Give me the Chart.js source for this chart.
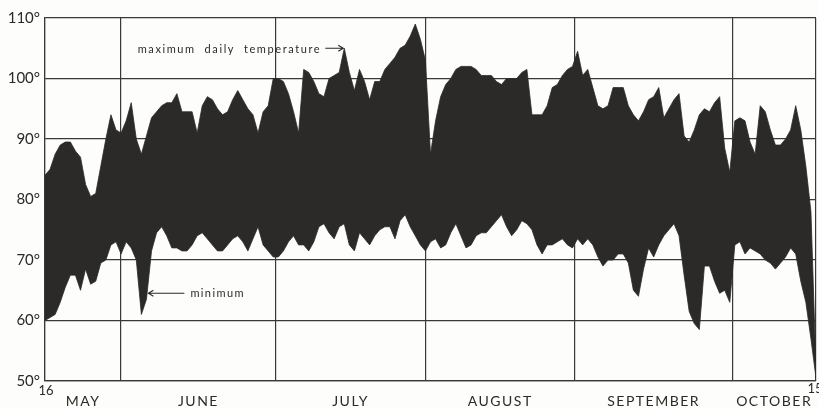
<!DOCTYPE html>
<html>
<head>
<meta charset="utf-8">
<script src="https://cdn.jsdelivr.net/npm/chart.js@4/dist/chart.umd.min.js"></script>
<style>
    html, body { margin: 0; padding: 0; background: #fdfdfb; }
    #wrap { width: 819px; height: 408px; }
</style>
</head>
<body>
<div id="wrap"><canvas id="temps" width="819" height="408"></canvas></div>
<script>
// daily max / min temperature, 16 May .. 15 October (one value per day)
const maxTemps = [
    84, 85, 87.5, 89, 89.5, 89.5, 88, 87, 82.5, 80.5,
    81, 85.5, 90, 94, 91.5, 91, 93, 96, 90, 87.5,
    90.5, 93.5, 94.5, 95.5, 96, 96, 97.5, 94.5, 94.5, 94.5,
    91, 95.5, 97, 96.5, 95, 94, 94.5, 96.5, 98, 96.5,
    95, 94, 91, 94.5, 95.5, 100, 100, 99.5, 97.5, 94.5,
    91, 101.5, 101, 99.5, 97.5, 97, 100, 100.5, 101, 105,
    101, 98, 101.5, 99.5, 96.5, 99.5, 99.5, 101.5, 102.5, 103.5,
    105, 105.5, 107, 109, 106.5, 103, 87.5, 93, 97, 99,
    100, 101.5, 102, 102, 102, 101.5, 100.5, 100.5, 100.5, 99.5,
    99, 100, 100, 100, 101, 101.5, 94, 94, 94, 95.5,
    98.5, 99, 100.5, 101.5, 102, 104.5, 100.5, 101.5, 98.5, 95.5,
    95, 95.5, 98.5, 98.5, 98.5, 95.5, 94, 93, 94.5, 96.5,
    97, 98.5, 93.5, 95, 96.5, 97.5, 90.5, 89.5, 91.5, 94,
    95, 94.5, 96, 97, 88.5, 84.5, 93, 93.5, 93, 89.5,
    87.5, 95.5, 94.5, 91.5, 89, 89, 90, 91.5, 95.5, 91.5,
    85.5, 78, 52
];
const minTemps = [
    60, 60.5, 61, 63, 65.5, 67.5, 67.5, 65, 68.5, 66,
    66.5, 69.5, 70, 72.5, 73, 71, 73, 72, 70, 61,
    63.5, 71.5, 74.5, 75.5, 74, 72, 72, 71.5, 71.5, 72.5,
    74, 74.5, 73.5, 72.5, 71.5, 71.5, 72.5, 73.5, 74, 73,
    71.5, 73.5, 75.5, 72.5, 71.5, 70.5, 70.5, 71.5, 73, 74,
    72.5, 72.5, 71.5, 73, 75.5, 76, 74.5, 73.5, 75.5, 76,
    72.5, 71.5, 74.5, 73.5, 72.5, 74, 75, 75.5, 75.5, 73.5,
    76.5, 77.5, 75.5, 74, 72.5, 71.5, 73, 73.5, 72, 72.5,
    74.5, 76, 74, 72, 72.5, 74, 74.5, 74.5, 75.5, 76.5,
    77.5, 75.5, 74, 75, 76.5, 76, 75, 72.5, 71, 72.5,
    72.5, 73, 73.5, 72.5, 72, 73.5, 72.5, 73.5, 72.5, 70.5,
    69, 70, 70, 71, 71, 69.5, 65, 64, 68.5, 72,
    70.5, 72.5, 74, 75, 76, 74, 67.5, 61.5, 59.5, 58.5,
    69, 69, 66.5, 64.5, 65, 63, 72.5, 73, 71, 72,
    71.5, 71, 70, 69.5, 68.5, 69.5, 70.5, 72, 71, 66.5,
    63, 57, 50.5
];
const dayIndex = maxTemps.map((_, i) => i);

const monthNames = ["MAY", "JUNE", "JULY", "AUGUST", "SEPTEMBER", "OCTOBER"];
// month boundary lines, in day units as drawn on the original sheet
const monthStarts = [15, 45.5, 75, 104.5, 135.5];
const yTicks = [50, 60, 70, 80, 90, 100, 110];

const ink = "#2b2a28";
const firstDay = 0, lastDay = maxTemps.length - 1;

// index of the extreme value inside [from, to)
function extremeIn(arr, from, to, pick) {
    let best = from;
    for (let i = from; i < to; i++) {
        if (pick(arr[i], arr[best])) best = i;
    }
    return best;
}

function arrow(ctx, x1, y1, x2, y2) {
    const dir = Math.sign(x2 - x1);
    ctx.beginPath();
    ctx.moveTo(x1, y1);
    ctx.lineTo(x2, y2);
    ctx.moveTo(x2 - dir * 5, y2 - 3);
    ctx.lineTo(x2, y2);
    ctx.lineTo(x2 - dir * 5, y2 + 3);
    ctx.stroke();
}

const paperText = {
    id: "paperText",
    afterDraw(chart) {
        const { ctx, scales: { x, y } } = chart;
        ctx.save();
        ctx.fillStyle = ink;
        ctx.strokeStyle = ink;
        ctx.lineWidth = 1.1;

        // y labels
        ctx.font = "15px Lato";
        ctx.textAlign = "right";
        ctx.textBaseline = "middle";
        yTicks.forEach(v => ctx.fillText(v + "°", 40, y.getPixelForValue(v)));

        // month names centred between boundaries
        const bounds = [firstDay, ...monthStarts, lastDay];
        ctx.font = "14px Lato";
        ctx.letterSpacing = "1.5px";
        ctx.textAlign = "center";
        monthNames.forEach((m, i) => {
            const cx = x.getPixelForValue((bounds[i] + bounds[i + 1]) / 2);
            ctx.fillText(m, cx, 401);
        });
        ctx.letterSpacing = "0px";

        ctx.font = "13px Lato";
        ctx.fillText("16", x.getPixelForValue(firstDay) + 1, 391);
        ctx.fillText("15", x.getPixelForValue(lastDay) - 1, 389);

        // annotation: maximum
        const pk = extremeIn(maxTemps, 50, 65, (a, b) => a > b);
        const tipX = x.getPixelForValue(pk) - 1;
        const tipY = y.getPixelForValue(maxTemps[pk]);
        ctx.font = "11px Lato";
        ctx.letterSpacing = "1.6px";
        ctx.textAlign = "right";
        ctx.fillText("maximum  daily  temperature", tipX - 22, tipY + 1);
        ctx.letterSpacing = "0px";
        arrow(ctx, tipX - 18, tipY, tipX, tipY);

        // annotation: minimum
        const lo = extremeIn(minTemps, 10, 30, (a, b) => a < b);
        const mX = x.getPixelForValue(lo) + 7;
        const mY = y.getPixelForValue(64.5);
        arrow(ctx, mX + 36, mY, mX, mY);
        ctx.letterSpacing = "1.4px";
        ctx.textAlign = "left";
        ctx.fillText("minimum", mX + 42, mY);
        ctx.restore();
    }
};

new Chart(document.getElementById("temps").getContext("2d"), {
    type: "line",
    data: {
        labels: dayIndex,
        datasets: [
            {
                label: "maximum",
                data: maxTemps,
                borderColor: ink,
                borderWidth: 0.8,
                backgroundColor: ink,
                pointRadius: 0,
                tension: 0,
                fill: "+1"
            },
            {
                label: "minimum",
                data: minTemps,
                borderColor: ink,
                borderWidth: 0.8,
                pointRadius: 0,
                tension: 0,
                fill: false
            }
        ]
    },
    options: {
        responsive: false,
        animation: false,
        layout: { padding: { left: 45, top: 18, right: 3, bottom: 27 } },
        plugins: { legend: { display: false }, tooltip: { enabled: false } },
        scales: {
            x: {
                type: "linear",
                min: firstDay,
                max: lastDay,
                afterBuildTicks: s => {
                    s.ticks = [firstDay, ...monthStarts, lastDay].map(v => ({ value: v }));
                },
                ticks: { display: false },
                grid: { color: "#3a3936", lineWidth: 1.2, drawTicks: false },
                border: { color: "#3a3936", width: 1.2 }
            },
            y: {
                min: 50,
                max: 110,
                afterBuildTicks: s => {
                    s.ticks = yTicks.map(v => ({ value: v }));
                },
                ticks: { display: false },
                grid: { color: "#3a3936", lineWidth: 1.2, drawTicks: false },
                border: { color: "#3a3936", width: 1.2 }
            }
        }
    },
    plugins: [paperText]
});
</script>
</body>
</html>
